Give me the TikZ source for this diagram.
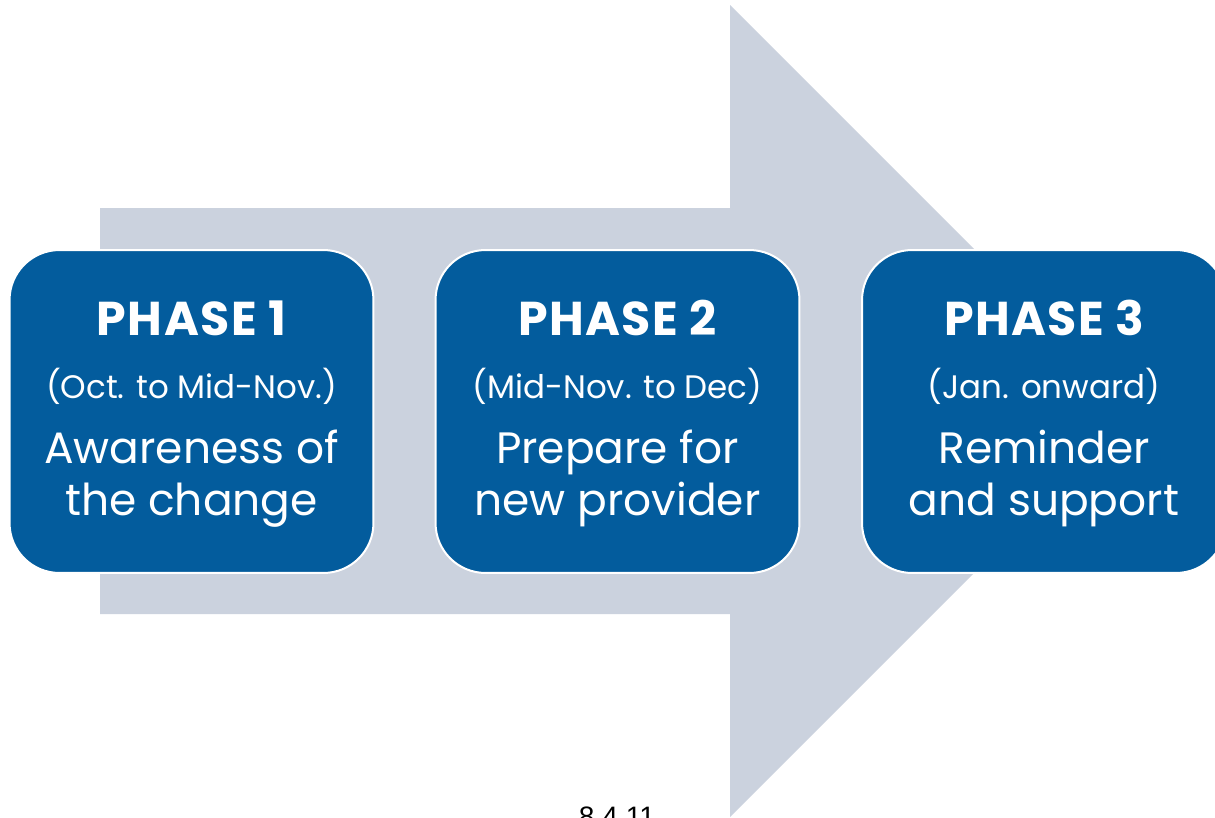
\documentclass[tikz,border=0pt]{standalone}
\usepackage{fontspec}
\setmainfont{Poppins}
\newfontfamily\pagefont{Liberation Sans}

\definecolor{phaseblue}{RGB}{3,92,157}
\definecolor{arrowgray}{RGB}{203,210,222}

\tikzset{
	phasebox/.style={draw=white, line width=0.4mm, fill=phaseblue, rounded corners=1cm,
		minimum width=7.28cm, minimum height=6.46cm, inner sep=0pt},
	phasetitle/.style={text=white, anchor=base,
		font=\bfseries\fontsize{27}{30}\selectfont\addfontfeatures{LetterSpace=3}},
	phasedate/.style={text=white, anchor=base, font=\fontsize{18.5}{20}\selectfont},
	phasetext/.style={text=white, anchor=base, font=\fontsize{25}{29.5}\selectfont},
}

\begin{document}
\begin{tikzpicture}[x=0.02cm, y=-0.02cm]
			%%%%% START %%%%%
			\useasboundingbox (0, 0) rectangle (1215, 818);
			\clip (0, 0) rectangle (1215, 818);
			
			% big arrow behind the boxes
			\fill[arrowgray] (100, 208) -- (730, 208) -- (730, 5) -- (1136, 411)
				-- (730, 817) -- (730, 614) -- (100, 614) -- cycle;
			
			% phase 1
			\node[phasebox] (phase1) at (191.5, 411.5) {};
			\node[phasetitle] (p1title) at (191.5, 335) {PHASE 1};
			\node[phasedate] (p1date) at (191.5, 398) {(Oct. to Mid-Nov.)};
			\node[phasetext] (p1top) at (191.5, 463) {Awareness of};
			\node[phasetext] (p1bot) at (191.5, 515) {the change};
			
			% phase 2
			\node[phasebox] (phase2) at (617.5, 411.5) {};
			\node[phasetitle] (p2title) at (617.5, 335) {PHASE 2};
			\node[phasedate] (p2date) at (617.5, 398) {(Mid-Nov. to Dec)};
			\node[phasetext] (p2top) at (617.5, 463) {Prepare for};
			\node[phasetext] (p2bot) at (617.5, 515) {new provider};
			
			% phase 3
			\node[phasebox] (phase3) at (1044, 411.5) {};
			\node[phasetitle] (p3title) at (1044, 335) {PHASE 3};
			\node[phasedate] (p3date) at (1044, 398) {(Jan. onward)};
			\node[phasetext] (p3top) at (1044, 463) {Reminder};
			\node[phasetext] (p3bot) at (1044, 515) {and support};
			
			% page number, cut by the page edge
			\node[anchor=base, font=\pagefont\fontsize{16}{19}\selectfont] (pagenum) at (617, 826) {8.4.11};
			%%%%% END %%%%%
\end{tikzpicture}
\end{document}
